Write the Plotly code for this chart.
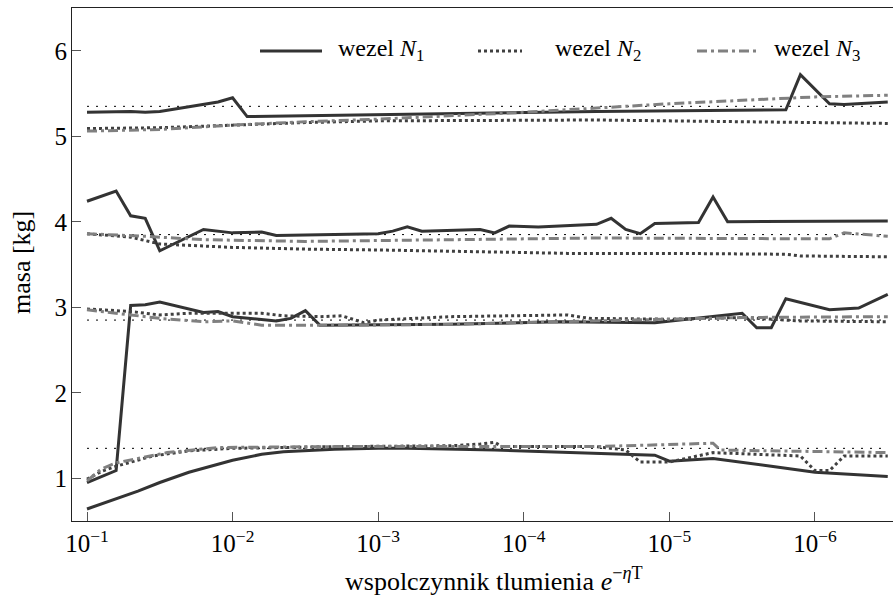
import plotly.graph_objects as go

# ---- data (x given as log10 exponents of the damping coefficient) ----
# group ~5.3 kg
E_N1_A = [-1.0, -1.3, -1.4, -1.5, -1.9, -2.0, -2.1, -3.0, -4.5, -5.8, -5.9, -6.1, -6.2, -6.5]
M_N1_A = [5.28, 5.29, 5.28, 5.29, 5.40, 5.45, 5.23, 5.25, 5.29, 5.31, 5.72, 5.38, 5.37, 5.40]
E_N2_A = [-1.0, -1.5, -2.0, -2.5, -3.0, -4.0, -4.5, -5.5, -6.5]
M_N2_A = [5.09, 5.10, 5.13, 5.16, 5.18, 5.19, 5.19, 5.17, 5.15]
E_N3_A = [-1.0, -1.5, -2.0, -2.5, -3.0, -3.5, -4.0, -4.5, -5.0, -5.5, -6.0, -6.5]
M_N3_A = [5.06, 5.08, 5.13, 5.17, 5.20, 5.24, 5.28, 5.33, 5.38, 5.42, 5.46, 5.48]

# group ~3.9 kg
E_N1_B = [-1.0, -1.2, -1.3, -1.4, -1.5, -1.8, -2.0, -2.2, -2.3, -3.0, -3.1, -3.2, -3.3,
          -3.7, -3.8, -3.9, -4.1, -4.5, -4.6, -4.7, -4.8, -4.9, -5.2, -5.3, -5.4, -6.5]
M_N1_B = [4.24, 4.36, 4.07, 4.04, 3.66, 3.91, 3.87, 3.88, 3.84, 3.86, 3.89, 3.94, 3.89,
          3.91, 3.87, 3.95, 3.94, 3.97, 4.04, 3.91, 3.86, 3.98, 3.99, 4.29, 4.00, 4.01]
E_N2_B = [-1.0, -1.3, -1.5, -1.8, -2.0, -2.5, -3.0, -4.0, -4.3, -5.0, -5.8, -5.9, -6.5]
M_N2_B = [3.86, 3.82, 3.74, 3.72, 3.70, 3.68, 3.67, 3.64, 3.63, 3.63, 3.62, 3.60, 3.59]
E_N3_B = [-1.0, -1.4, -1.8, -2.5, -3.5, -4.5, -6.1, -6.2, -6.5]
M_N3_B = [3.86, 3.83, 3.79, 3.77, 3.79, 3.81, 3.80, 3.87, 3.83]

# group ~2.9 kg (N1 starts near 1 kg and jumps)
E_N1_C = [-1.0, -1.2, -1.3, -1.4, -1.5, -1.8, -1.9, -2.0, -2.3, -2.4, -2.5, -2.6,
          -3.5, -4.25, -4.9, -5.5, -5.6, -5.7, -5.8, -6.1, -6.3, -6.5]
M_N1_C = [0.95, 1.09, 3.02, 3.03, 3.06, 2.94, 2.95, 2.89, 2.84, 2.87, 2.96, 2.79,
          2.80, 2.83, 2.82, 2.93, 2.76, 2.76, 3.10, 2.97, 2.99, 3.15]
E_N2_C = [-1.0, -1.3, -1.5, -1.7, -2.2, -2.35, -2.6, -2.75, -2.9, -3.0, -3.5, -4.3,
          -4.45, -5.0, -5.5, -5.9, -6.5]
M_N2_C = [2.98, 2.95, 2.91, 2.93, 2.93, 2.90, 2.89, 2.90, 2.82, 2.85, 2.89, 2.91,
          2.87, 2.86, 2.88, 2.84, 2.83]
E_N3_C = [-1.0, -1.5, -1.8, -2.0, -2.2, -2.7, -3.5, -4.5, -5.0, -5.5, -6.5]
M_N3_C = [2.97, 2.87, 2.83, 2.84, 2.79, 2.79, 2.80, 2.84, 2.86, 2.88, 2.89]

# group ~1.3 kg
E_N1_D = [-1.0, -1.2, -1.35, -1.5, -1.7, -2.0, -2.2, -2.35, -2.7, -3.0, -3.2, -3.8,
          -4.5, -4.9, -5.0, -5.3, -5.7, -6.0, -6.5]
M_N1_D = [0.64, 0.76, 0.85, 0.95, 1.07, 1.21, 1.28, 1.31, 1.34, 1.35, 1.35, 1.33,
          1.29, 1.27, 1.20, 1.23, 1.14, 1.07, 1.02]
E_N2_D = [-1.0, -1.1, -1.2, -1.3, -1.45, -1.7, -2.0, -2.7, -3.5, -3.7, -3.8, -3.85,
          -4.5, -4.7, -4.8, -5.0, -5.3, -5.9, -6.0, -6.1, -6.2, -6.5]
M_N2_D = [0.99, 1.08, 1.14, 1.19, 1.26, 1.32, 1.35, 1.37, 1.38, 1.40, 1.42, 1.37,
          1.37, 1.33, 1.19, 1.19, 1.30, 1.26, 1.09, 1.09, 1.26, 1.26]
E_N3_D = [-1.0, -1.1, -1.2, -1.35, -1.55, -1.9, -2.7, -4.5, -5.2, -5.3, -5.35, -6.5]
M_N3_D = [0.97, 1.11, 1.18, 1.23, 1.30, 1.36, 1.37, 1.37, 1.40, 1.41, 1.33, 1.30]

# reference masses (thin dotted lines)
REF_MASSES = [5.35, 3.85, 2.85, 1.35]
REF_SPAN = [-1.0, -6.5]

# axis ticks
X_TICK_EXP = [-1, -2, -3, -4, -5, -6]
Y_TICKS = [1, 2, 3, 4, 5, 6]

LEGEND_NAMES = ["wezel <i>N</i><sub>1</sub>", "wezel <i>N</i><sub>2</sub>", "wezel <i>N</i><sub>3</sub>"]

# ---- styles ----
FONT = "Liberation Serif"
C1, C2, C3 = "#333333", "#404040", "#808080"
D1, D2, D3 = "solid", "3px,3px", "10px,4px,3px,4px"
LW = 3


def tox(exps):
    return [10 ** e for e in exps]


fig = go.Figure()

for m in REF_MASSES:
    fig.add_trace(go.Scatter(x=tox(REF_SPAN), y=[m, m], mode="lines",
                             line=dict(color="black", width=1, dash="2px,7px"),
                             showlegend=False, hoverinfo="skip"))

series = [
    (E_N1_A, M_N1_A, C1, D1), (E_N1_B, M_N1_B, C1, D1), (E_N1_C, M_N1_C, C1, D1), (E_N1_D, M_N1_D, C1, D1),
    (E_N2_A, M_N2_A, C2, D2), (E_N2_B, M_N2_B, C2, D2), (E_N2_C, M_N2_C, C2, D2), (E_N2_D, M_N2_D, C2, D2),
    (E_N3_A, M_N3_A, C3, D3), (E_N3_B, M_N3_B, C3, D3), (E_N3_C, M_N3_C, C3, D3), (E_N3_D, M_N3_D, C3, D3),
]
for e, m, c, d in series:
    fig.add_trace(go.Scatter(x=tox(e), y=m, mode="lines",
                             line=dict(color=c, width=LW, dash=d),
                             showlegend=False))

# ---- geometry helpers (pixel -> paper) ----
W, H = 893, 604
ML, MR, MT, MB = 72, 0, 8, 83
PW, PH = W - ML - MR, H - MT - MB


def px(x):
    return (x - ML) / PW


def py(y):
    return (H - MB - y) / PH


# manual legend
leg_items = [
    (260, 322, 336, C1, D1, LEGEND_NAMES[0]),
    (478, 522, 553, C2, D2, LEGEND_NAMES[1]),
    (697, 757, 772, C3, D3, LEGEND_NAMES[2]),
]
shapes = []
annotations = []
LEG_Y = 51
for x0, x1, xt, c, d, name in leg_items:
    shapes.append(dict(type="line", xref="paper", yref="paper",
                       x0=px(x0), x1=px(x1), y0=py(LEG_Y), y1=py(LEG_Y),
                       line=dict(color=c, width=LW, dash=d)))
    annotations.append(dict(text=name, xref="paper", yref="paper", x=px(xt), y=py(LEG_Y - 1),
                            xanchor="left", yanchor="middle", showarrow=False,
                            font=dict(family=FONT, size=24, color="black")))

# axis titles
annotations.append(dict(text="wspolczynnik tlumienia <i>e</i><sup>−<i>η</i>T</sup>",
                        xref="paper", yref="paper", x=px(343), y=py(579),
                        xanchor="left", yanchor="middle", showarrow=False,
                        font=dict(family=FONT, size=26, color="black")))
annotations.append(dict(text="masa [kg]", xref="paper", yref="paper", x=px(21), y=py(263),
                        xanchor="center", yanchor="middle", textangle=-90, showarrow=False,
                        font=dict(family=FONT, size=26, color="black")))

fig.update_layout(
    width=W, height=H,
    margin=dict(l=ML, r=MR, t=MT, b=MB),
    plot_bgcolor="white", paper_bgcolor="white",
    font=dict(family=FONT, color="black"),
    shapes=shapes, annotations=annotations,
    showlegend=False,
    xaxis=dict(type="log", range=[-0.897, -6.536], tickvals=tox(X_TICK_EXP),
               ticktext=[f"10<sup>−{abs(k)}</sup>" for k in X_TICK_EXP],
               ticks="inside", ticklen=9, tickcolor="#555", tickwidth=1,
               showline=True, linecolor="#222", linewidth=1, mirror=True,
               showgrid=False, zeroline=False,
               tickfont=dict(family=FONT, size=25, color="black")),
    yaxis=dict(range=[0.5, 6.5], tickvals=Y_TICKS,
               ticks="inside", ticklen=9, tickcolor="#555", tickwidth=1,
               showline=True, linecolor="#222", linewidth=1, mirror=False,
               showgrid=False, zeroline=False, ticklabelstandoff=-1,
               tickfont=dict(family=FONT, size=25, color="black")),
)

fig.write_html("out.html")
